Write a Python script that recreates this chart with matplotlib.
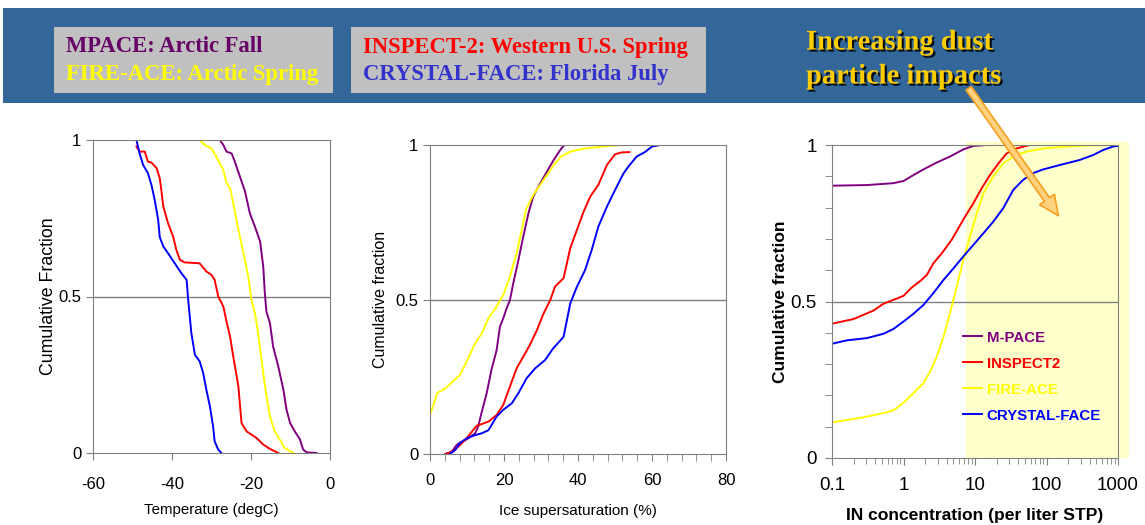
import matplotlib
matplotlib.use("Agg")
import matplotlib.pyplot as plt
import matplotlib.patheffects as pe
from matplotlib.patches import Rectangle, FancyArrowPatch
from matplotlib.ticker import MultipleLocator, FixedLocator, LogLocator, NullFormatter

# ---- data ----
# panel 1: cumulative fraction vs temperature (degC)
t_mpace = [-27.9, -27.0, -26.2, -24.9, -24.1, -22.8, -21.5, -20.3, -19.0, -17.7, -16.9, -16.5, -16.1, -15.2,
           -14.4, -13.1, -11.8, -11.0, -10.1, -8.9, -7.6, -6.8, -5.9, -3.4]
f_mpace_t = [1.0, 0.984, 0.963, 0.957, 0.931, 0.883, 0.835, 0.766, 0.723, 0.676, 0.596, 0.511, 0.452, 0.415,
             0.34, 0.277, 0.202, 0.138, 0.096, 0.069, 0.043, 0.011, 0.002, 0.0]
t_inspect = [-49.0, -48.2, -46.9, -46.1, -45.2, -43.9, -43.1, -42.7, -42.2, -41.0, -39.7, -38.9, -38.0, -36.8,
             -33.0, -31.3, -30.0, -29.2, -28.3, -27.0, -26.2, -25.3, -24.5, -23.2, -22.4, -21.1, -18.6, -16.9,
             -15.2, -13.1]
f_inspect_t = [0.979, 0.963, 0.963, 0.931, 0.928, 0.91, 0.878, 0.84, 0.787, 0.734, 0.691, 0.649, 0.617, 0.609,
               0.606, 0.58, 0.569, 0.553, 0.5, 0.468, 0.42, 0.372, 0.309, 0.213, 0.096, 0.069, 0.048, 0.027,
               0.013, 0.0]
t_fire = [-33.0, -31.7, -30.0, -28.3, -27.0, -26.2, -25.3, -24.5, -23.2, -21.9, -20.7, -19.9, -19.0, -18.2,
          -16.9, -16.1, -15.2, -14.0, -12.7, -11.5, -9.3]
f_fire_t = [1.0, 0.984, 0.973, 0.936, 0.904, 0.862, 0.846, 0.798, 0.713, 0.638, 0.564, 0.489, 0.447, 0.383,
            0.255, 0.181, 0.117, 0.069, 0.043, 0.016, 0.0]
t_crystal = [-49.0, -48.2, -47.3, -46.1, -45.2, -44.4, -43.5, -43.1, -42.2, -41.0, -39.3, -37.6, -36.3, -35.9,
             -35.1, -34.2, -33.0, -32.1, -31.3, -30.4, -29.6, -29.2, -28.3, -27.5]
f_crystal_t = [1.0, 0.957, 0.92, 0.894, 0.856, 0.81, 0.745, 0.69, 0.66, 0.638, 0.606, 0.574, 0.553, 0.489,
               0.383, 0.314, 0.293, 0.255, 0.202, 0.149, 0.085, 0.037, 0.011, 0.0]

# panel 2: cumulative fraction vs ice supersaturation (%)
s_mpace = [4.1, 5.9, 7.2, 8.1, 9.9, 12.2, 13.0, 13.9, 15.3, 16.6, 18.0, 18.9, 19.8, 20.7, 21.6, 22.5, 23.9,
           25.2, 26.6, 27.9, 29.8, 31.6, 33.4, 35.2, 36.3, 37.9]
f_mpace_s = [0.0, 0.008, 0.029, 0.037, 0.047, 0.067, 0.088, 0.132, 0.196, 0.272, 0.336, 0.412, 0.439, 0.471,
             0.498, 0.552, 0.628, 0.703, 0.779, 0.833, 0.876, 0.914, 0.951, 0.984, 1.0, 1.0]
s_inspect = [4.3, 6.3, 8.1, 9.9, 11.3, 12.6, 14.0, 15.8, 18.0, 19.8, 21.6, 23.4, 25.2, 27.0, 28.9, 30.7, 32.5,
             33.8, 36.1, 37.9, 39.7, 41.5, 43.3, 45.5, 47.8, 50.0, 51.8, 53.9]
f_inspect_s = [0.0, 0.008, 0.029, 0.051, 0.072, 0.091, 0.097, 0.105, 0.126, 0.159, 0.218, 0.277, 0.315, 0.353,
               0.401, 0.455, 0.498, 0.542, 0.569, 0.666, 0.725, 0.784, 0.833, 0.871, 0.935, 0.970, 0.976, 0.977]
s_fire = [0.0, 2.0, 4.1, 6.1, 8.1, 10.1, 12.2, 14.0, 15.8, 18.0, 19.8, 21.6, 23.4, 24.8, 25.9, 27.9, 29.8,
          31.6, 33.8, 35.6, 37.9, 40.6, 44.2, 49.6, 52.7]
f_fire_s = [0.126, 0.198, 0.212, 0.234, 0.256, 0.304, 0.358, 0.39, 0.439, 0.477, 0.515, 0.574, 0.649, 0.725,
            0.79, 0.838, 0.871, 0.903, 0.941, 0.964, 0.978, 0.986, 0.992, 0.998, 1.0]
s_crystal = [5.4, 6.8, 8.1, 9.9, 12.2, 14.0, 15.8, 18.0, 19.8, 22.1, 23.9, 26.1, 28.4, 31.1, 33.3, 36.1, 37.9,
             39.7, 41.9, 43.7, 45.5, 47.8, 50.0, 52.3, 53.6, 55.8, 58.2, 60.0, 62.2, 68.1]
f_crystal_s = [0.0, 0.013, 0.035, 0.051, 0.061, 0.067, 0.077, 0.121, 0.143, 0.164, 0.197, 0.245, 0.277, 0.304,
               0.342, 0.379, 0.487, 0.541, 0.595, 0.66, 0.736, 0.8, 0.854, 0.908, 0.93, 0.962, 0.978, 0.995,
               1.0, 1.0]

# panel 3: cumulative fraction vs IN concentration (per liter STP)
n_mpace = [0.1, 0.307, 0.72, 1.0, 1.38, 1.9, 2.92, 4.47, 6.87, 9.5, 14.5, 100]
f_mpace_n = [0.870, 0.872, 0.878, 0.885, 0.904, 0.922, 0.944, 0.963, 0.986, 0.997, 1.0, 1.0]
n_inspect = [0.1, 0.2, 0.38, 0.526, 0.72, 1.0, 1.28, 1.79, 2.12, 2.62, 3.43, 4.72, 5.85, 7.25, 9.5, 12.4,
             16.2, 21.2, 27.7, 38.1, 58.5, 100]
f_inspect_n = [0.429, 0.444, 0.471, 0.493, 0.505, 0.518, 0.543, 0.569, 0.585, 0.622, 0.654, 0.697, 0.734,
               0.771, 0.814, 0.862, 0.904, 0.941, 0.973, 0.989, 1.0, 1.0]
n_fire = [0.1, 0.248, 0.47, 0.72, 1.0, 1.38, 1.9, 2.37, 2.92, 3.63, 4.47, 5.5, 6.87, 8.5, 10.6, 13.1, 18.0,
          24.8, 34.2, 52.6, 89.9, 190, 450, 850]
f_fire_n = [0.114, 0.128, 0.141, 0.152, 0.176, 0.207, 0.239, 0.277, 0.324, 0.388, 0.463, 0.543, 0.633, 0.707,
            0.782, 0.846, 0.899, 0.941, 0.963, 0.979, 0.989, 0.995, 0.999, 1.0]
n_crystal = [0.1, 0.162, 0.307, 0.526, 0.72, 1.0, 1.38, 1.9, 2.62, 3.63, 5.0, 6.87, 9.5, 13.1, 18.0, 24.8,
             34.2, 46.7, 64.8, 89.9, 153, 290, 450, 620, 850, 1000]
f_crystal_n = [0.365, 0.376, 0.383, 0.397, 0.412, 0.436, 0.461, 0.489, 0.527, 0.569, 0.606, 0.644, 0.681,
               0.718, 0.755, 0.798, 0.856, 0.888, 0.910, 0.922, 0.936, 0.952, 0.968, 0.984, 0.995, 0.997]

labels = ["M-PACE", "INSPECT2", "FIRE-ACE", "CRYSTAL-FACE"]
colors = ["#800080", "#FF0000", "#FFFF00", "#0000FF"]

sans = "Liberation Sans"
serif = "Liberation Serif"
plt.rcParams["font.family"] = sans
plt.rcParams["axes.unicode_minus"] = False

fig = plt.figure(figsize=(11.45, 5.25), dpi=100)

# ---- header banner ----
fig.add_artist(Rectangle((3 / 1145, 1 - 103 / 525), 1, 95 / 525, transform=fig.transFigure,
                         facecolor="#336699", edgecolor="none"))
fig.add_artist(Rectangle((54 / 1145, 1 - 93 / 525), 279 / 1145, 66 / 525, transform=fig.transFigure,
                         facecolor="#C0C0C0", edgecolor="none"))
fig.add_artist(Rectangle((351 / 1145, 1 - 93 / 525), 355 / 1145, 66 / 525, transform=fig.transFigure,
                         facecolor="#C0C0C0", edgecolor="none"))

hdr = dict(family=serif, weight="bold", fontsize=16.3, va="center", ha="left")
fig.text(66 / 1145, 1 - 47 / 525, "MPACE: Arctic Fall", color="#660066", **hdr)
fig.text(66 / 1145, 1 - 75 / 525, "FIRE-ACE: Arctic Spring", color="#FFFF00", **hdr)
fig.text(363 / 1145, 1 - 47 / 525, "INSPECT-2: Western U.S. Spring", color="#FF0000", **hdr)
fig.text(363 / 1145, 1 - 75 / 525, "CRYSTAL-FACE: Florida July", color="#3333CC", **hdr)

shadow = [pe.withSimplePatchShadow(offset=(1.5, -1.5), shadow_rgbFace="black", alpha=0.9)]
fig.text(806 / 1145, 1 - 43 / 525, "Increasing dust", color="#FFCC00", family=serif, weight="bold",
         fontsize=20.5, va="center", ha="left", path_effects=shadow)
fig.text(806 / 1145, 1 - 77 / 525, "particle impacts", color="#FFCC00", family=serif, weight="bold",
         fontsize=20.5, va="center", ha="left", path_effects=shadow)


def style_axes(ax):
    for s in ax.spines.values():
        s.set_color("#808080")
    ax.set_ylim(0, 1)
    ax.set_yticks([0, 0.5, 1])
    ax.set_yticklabels(["0", "0.5", "1"])
    ax.axhline(0.5, color="#808080", lw=1)


def style_ticks(ax, size, xpad):
    ax.tick_params(which="both", direction="out", color="#808080", length=5, labelsize=size)
    ax.tick_params(axis="x", which="major", pad=xpad)


# ---- panel 1 ----
ax1 = fig.add_axes([93 / 1145, 1 - 453 / 525, 237 / 1145, 313 / 525])
style_axes(ax1)
for x, y, c in [(t_mpace, f_mpace_t, colors[0]), (t_inspect, f_inspect_t, colors[1]),
                (t_fire, f_fire_t, colors[2]), (t_crystal, f_crystal_t, colors[3])]:
    ax1.plot(x, y, color=c, lw=1.4)
ax1.set_xlim(-60, 0)
ax1.set_xticks([-60, -40, -20, 0])
style_ticks(ax1, 12, 12)
ax1.set_xlabel("Temperature (degC)", fontsize=10.8, labelpad=8)
ax1.set_ylabel("Cumulative Fraction", fontsize=12.8, labelpad=1)

# ---- panel 2 ----
ax2 = fig.add_axes([430 / 1145, 1 - 454 / 525, 296 / 1145, 309 / 525])
style_axes(ax2)
for x, y, c in [(s_mpace, f_mpace_s, colors[0]), (s_inspect, f_inspect_s, colors[1]),
                (s_fire, f_fire_s, colors[2]), (s_crystal, f_crystal_s, colors[3])]:
    ax2.plot(x, y, color=c, lw=1.4)
ax2.set_xlim(0, 80)
ax2.set_xticks([0, 20, 40, 60, 80])
ax2.xaxis.set_minor_locator(MultipleLocator(4))
style_ticks(ax2, 12, 9)
ax2.set_xlabel("Ice supersaturation (%)", fontsize=11, labelpad=11)
ax2.set_ylabel("Cumulative fraction", fontsize=11.5, labelpad=5)

# ---- panel 3 ----
ax3 = fig.add_axes([832 / 1145, 1 - 458 / 525, 286 / 1145, 313 / 525])
style_axes(ax3)
ax3.set_xscale("log")
ax3.set_xlim(0.1, 1000)
ax3.add_patch(Rectangle((7.5, 0), 1420 - 7.5, 1.01, facecolor="#FFFFCC", edgecolor="none",
                        clip_on=False, zorder=0))
for x, y, c, lab in [(n_mpace, f_mpace_n, colors[0], labels[0]), (n_inspect, f_inspect_n, colors[1], labels[1]),
                     (n_fire, f_fire_n, colors[2], labels[2]), (n_crystal, f_crystal_n, colors[3], labels[3])]:
    ax3.plot(x, y, color=c, lw=1.4, label=lab)
ax3.set_xticks([0.1, 1, 10, 100, 1000])
ax3.set_xticklabels(["0.1", "1", "10", "100", "1000"])
ax3.xaxis.set_minor_locator(LogLocator(base=10, subs=[2, 3, 4, 5, 6, 7, 8, 9]))
ax3.xaxis.set_minor_formatter(NullFormatter())
ax3.yaxis.set_minor_locator(FixedLocator([0.1, 0.2, 0.3, 0.4, 0.6, 0.7, 0.8, 0.9]))
style_ticks(ax3, 13.5, 9)
ax3.tick_params(axis="x", which="minor", length=4)
ax3.tick_params(axis="y", pad=6)
ax3.set_xlabel("IN concentration (per liter STP)", fontsize=12.6, weight="bold", labelpad=10)
ax3.set_ylabel("Cumulative fraction", fontsize=12.5, weight="bold", labelpad=2)
leg = ax3.legend(loc="upper left", bbox_to_anchor=(0.41, 0.45), frameon=False, handlelength=1.3,
                 handletextpad=0.3, labelspacing=0.8, labelcolor="linecolor",
                 prop=dict(family=sans, weight="bold", size=10.8))

# ---- arrow ----
fig.add_artist(FancyArrowPatch((967 / 1145, 1 - 86 / 525), (1060 / 1145, 1 - 218 / 525),
                               transform=fig.transFigure,
                               arrowstyle="simple,head_width=1.0,head_length=1.1,tail_width=0.35",
                               mutation_scale=13, facecolor="#FFD27F", edgecolor="#F5A020", lw=1.2))

fig.savefig("out.png", dpi=100)
